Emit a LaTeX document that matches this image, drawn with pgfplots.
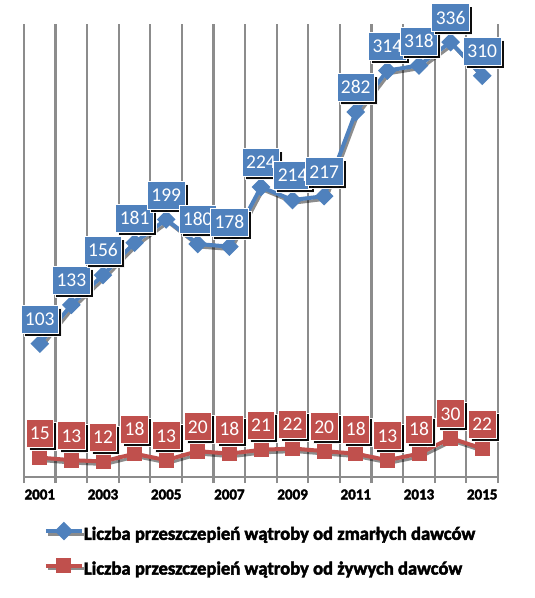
\documentclass[border=0pt]{standalone}
\usepackage{pgfplots}
\pgfplotsset{compat=1.18}
\usepackage{fontspec}
\setmainfont{Carlito}[BoldFont={Carlito Bold}]
\newfontfamily\heavyfont{Carlito Bold}[FakeBold=2.5]
\usetikzlibrary{shadows}
\definecolor{xblue}{HTML}{4F81BD}
\definecolor{xred}{HTML}{C0504D}
\definecolor{xgrid}{HTML}{8C8C8C}
\begin{document}
\begin{tikzpicture}
\path (-24pt,-121pt) rectangle (511pt,477pt);
\begin{axis}[
  scale only axis,
  width=474pt, height=453pt,
  xmin=2000.5, xmax=2015.5,
  ymin=0, ymax=350,
  axis y line=none,
  axis x line*=bottom,
  axis line style={-, xgrid, line width=1.5pt},
  xtick={2001,2003,2005,2007,2009,2011,2013,2015},
  xticklabels={2001,2003,2005,2007,2009,2011,2013,2015},
  major tick length=0pt,
  minor xtick={2000.5,2001.5,...,2015.5},
  minor tick length=6pt,
  tick align=outside,
  xminorgrids=true,
  minor grid style={xgrid, line width=2.2pt},
  minor tick style={xgrid, line width=2.2pt},
  xticklabel style={font=\heavyfont\fontsize{15}{15}\selectfont, yshift=-9pt},
  /pgf/number format/assume math mode=true,
  clip=false,
  legend style={draw=none, fill=none, inner sep=0pt, outer sep=0pt,
    font=\heavyfont\fontsize{18.6}{18.6}\selectfont,
    nodes={inner sep=0pt, text height=12pt, text depth=3.5pt},
    row sep=17pt,
    at={(rel axis cs:0.042,-0.105)}, anchor=north west,
    legend cell align=left},
  legend image code/.code={\draw[mark repeat=2,mark phase=2,#1] plot coordinates {(0pt,4.5pt) (18pt,4.5pt) (36pt,4.5pt)};},
  every node near coord/.append style={draw=white, line width=0.8pt, text=white,
    font=\fontsize{19.5}{19.5}\selectfont,
    inner xsep=4pt, inner ysep=7.7pt, text height=12.6pt, text depth=0pt,
    anchor=south, yshift=10pt,
    drop shadow={shadow xshift=3pt, shadow yshift=-3pt, fill=black, opacity=0.95}},
]
\addplot[xblue, line width=4pt, mark=square*, mark size=4.6pt, mark options={rotate=45, solid},
  preaction={draw=black, line width=3pt, opacity=0.45, transform canvas={xshift=2pt, yshift=-3pt}},
  nodes near coords, every node near coord/.append style={fill=xblue}]
  coordinates {(2001,103) (2002,133) (2003,156) (2004,181) (2005,199) (2006,180) (2007,178) (2008,224) (2009,214) (2010,217) (2011,282) (2012,314) (2013,318) (2014,336) (2015,310)};
\addlegendentry{Liczba przeszczepień wątroby od zmarłych dawców}
\addplot[xred, line width=4pt, mark=square*, mark size=5.5pt, mark options={solid},
  preaction={draw=black, line width=3pt, opacity=0.45, transform canvas={xshift=2pt, yshift=-3pt}},
  nodes near coords, every node near coord/.append style={fill=xred}]
  coordinates {(2001,15) (2002,13) (2003,12) (2004,18) (2005,13) (2006,20) (2007,18) (2008,21) (2009,22) (2010,20) (2011,18) (2012,13) (2013,18) (2014,30) (2015,22)};
\addlegendentry{Liczba przeszczepień wątroby od żywych dawców}
\end{axis}
\end{tikzpicture}
\end{document}
